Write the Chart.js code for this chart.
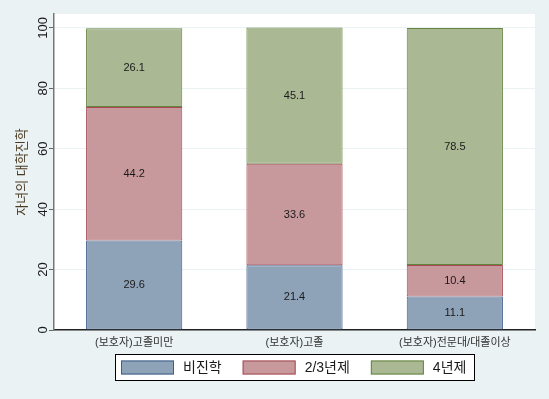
<!DOCTYPE html>
<html>
<head>
<meta charset="utf-8">
<script src="https://cdn.jsdelivr.net/npm/chart.js@4"></script>
<style>
  html, body { margin: 0; padding: 0; background: #eaf2f3; }
</style>
</head>
<body>
<canvas id="chart" width="549" height="399"></canvas>
<script>
// data
const categories = ["(보호자)고졸미만", "(보호자)고졸", "(보호자)전문대/대졸이상"];
const seriesNames = ["비진학", "2/3년제", "4년제"];
const noCollege = [29.6, 21.4, 11.1];
const college23 = [44.2, 33.6, 10.4];
const college4 = [26.1, 45.1, 78.5];
const yTicks = [0, 20, 40, 60, 80, 100];
const yTitle = "자녀의 대학진학";

const FONT = "'Liberation Sans', 'Noto Sans CJK KR', sans-serif";

// background + white plot region
const bgPlugin = {
  id: "bg",
  beforeDraw(chart) {
    const ctx = chart.ctx;
    const a = chart.chartArea;
    ctx.save();
    ctx.fillStyle = "#eaf2f3";
    ctx.fillRect(0, 0, chart.width, chart.height);
    ctx.fillStyle = "#ffffff";
    ctx.fillRect(a.left, a.top, a.right - a.left, a.bottom - a.top);
    ctx.restore();
  }
};

// value labels in the middle of each segment
const valuePlugin = {
  id: "values",
  afterDatasetsDraw(chart) {
    const ctx = chart.ctx;
    ctx.save();
    ctx.font = "11px " + FONT;
    ctx.fillStyle = "#1a1a1a";
    ctx.textAlign = "center";
    ctx.textBaseline = "middle";
    chart.data.datasets.forEach((ds, i) => {
      chart.getDatasetMeta(i).data.forEach((bar, j) => {
        ctx.fillText(ds.data[j].toFixed(1), bar.x, (bar.y + bar.base) / 2);
      });
    });
    ctx.restore();
  }
};

// rotated y tick labels, y title, boxed legend (Stata look)
const axisPlugin = {
  id: "stataAxis",
  afterDraw(chart) {
    const ctx = chart.ctx;
    const y = chart.scales.y;
    const a = chart.chartArea;
    ctx.save();
    ctx.textAlign = "center";
    ctx.textBaseline = "middle";

    ctx.font = "13px " + FONT;
    ctx.fillStyle = "#1a1a1a";
    yTicks.forEach(v => {
      ctx.save();
      ctx.translate(43, y.getPixelForValue(v));
      ctx.rotate(-Math.PI / 2);
      ctx.fillText(String(v), 0, 0);
      ctx.restore();
    });

    ctx.font = "13px " + FONT;
    ctx.fillStyle = "#4a3a22";
    ctx.save();
    ctx.translate(22, (a.top + a.bottom) / 2);
    ctx.rotate(-Math.PI / 2);
    ctx.fillText(yTitle, 0, 0);
    ctx.restore();

    // legend
    ctx.font = "14px " + FONT;
    const sw = 53, sh = 14, gapText = 9, gapItem = 21, pad = 6;
    const items = chart.data.datasets.map(ds => ({
      text: ds.label, fill: ds.backgroundColor, stroke: ds.borderColor,
      w: sw + gapText + ctx.measureText(ds.label).width
    }));
    const total = items.reduce((s, it) => s + it.w, 0) + gapItem * (items.length - 1);
    const boxW = Math.round(total + pad * 2 + 3);
    const boxL = Math.round((a.left + a.right) / 2 - boxW / 2);
    const boxT = 354, boxH = 27;
    ctx.fillStyle = "#ffffff";
    ctx.fillRect(boxL, boxT, boxW, boxH);
    ctx.strokeStyle = "#000000";
    ctx.lineWidth = 1;
    ctx.strokeRect(boxL + 0.5, boxT + 0.5, boxW - 1, boxH - 1);
    let x = boxL + pad;
    const cy = boxT + boxH / 2;
    ctx.textAlign = "left";
    items.forEach(it => {
      ctx.fillStyle = it.fill;
      ctx.fillRect(x, cy - sh / 2, sw, sh);
      ctx.strokeStyle = it.stroke;
      ctx.strokeRect(x + 0.5, cy - sh / 2 + 0.5, sw - 1, sh - 1);
      ctx.fillStyle = "#1a1a1a";
      ctx.fillText(it.text, x + sw + gapText, cy + 1);
      x += it.w + gapItem;
    });
    ctx.restore();
  }
};

const ctx = document.getElementById("chart").getContext("2d");
new Chart(ctx, {
  type: "bar",
  data: {
    labels: categories,
    datasets: [
      { label: seriesNames[0], data: noCollege, backgroundColor: "#8ea3b8", borderColor: "#3f5f87" },
      { label: seriesNames[1], data: college23, backgroundColor: "#c8999c", borderColor: "#a64b55" },
      { label: seriesNames[2], data: college4, backgroundColor: "#aab994", borderColor: "#65843f" }
    ].map(d => Object.assign(d, {
      borderWidth: 1, borderSkipped: false, barPercentage: 0.6, categoryPercentage: 1
    }))
  },
  options: {
    responsive: false,
    animation: false,
    layout: { padding: { top: 14, right: 14, left: 0, bottom: 0 } },
    plugins: { legend: { display: false }, tooltip: { enabled: false } },
    scales: {
      x: {
        stacked: true,
        grid: { display: false, drawTicks: false },
        border: { display: true, color: "#222222", width: 1.5 },
        ticks: { color: "#333333", font: { family: FONT, size: 11 }, padding: 6, maxRotation: 0 },
        afterFit(s) { s.height = 69; }
      },
      y: {
        stacked: true,
        min: 0,
        max: 104.6,
        grid: { color: "#eaf2f3", lineWidth: 1, drawTicks: true, tickLength: 5, tickColor: "#666666" },
        border: { display: true, color: "#777777", width: 1.5 },
        ticks: { display: false },
        afterBuildTicks(s) { s.ticks = yTicks.map(v => ({ value: v })); },
        afterFit(s) { s.width = 54; }
      }
    }
  },
  plugins: [bgPlugin, valuePlugin, axisPlugin]
});
</script>
</body>
</html>
